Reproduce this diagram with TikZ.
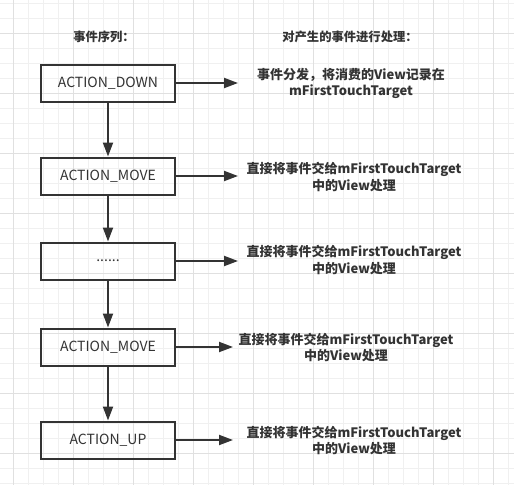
\documentclass[tikz,border=0pt]{standalone}
\usepackage{fontspec}
\setmainfont{Noto Sans CJK SC}
\usetikzlibrary{arrows.meta, positioning}
\definecolor{inkgray}{HTML}{333333}
\definecolor{gridminor}{HTML}{F0F0F0}
\definecolor{gridmajor}{HTML}{E0E0E0}
\tikzset{
    evbox/.style={draw=inkgray, line width=2pt, minimum width=134pt, minimum height=37pt, inner sep=0pt, text=inkgray, font=\fontsize{14}{16}\selectfont},
    handletext/.style={align=center, text=inkgray, font=\bfseries\fontsize{13}{16.5}\selectfont, inner sep=0pt},
    headtext/.style={text=inkgray, font=\bfseries\fontsize{12.3}{14}\selectfont, inner sep=0pt},
    flow/.style={-{Triangle[length=14pt, width=10pt]}, draw=inkgray, line width=2pt},
}

\begin{document}
\begin{tikzpicture}[x=1pt, y=-1pt]
\fill[white] (0,0) rectangle (514,485);
\useasboundingbox (0,0) rectangle (514,485);
% grid paper
\foreach \gx in {13,28,...,508} \draw[gridminor, line width=1pt] (\gx,0) -- (\gx,485);
\foreach \gy in {3,18,...,483} \draw[gridminor, line width=1pt] (0,\gy) -- (514,\gy);
\foreach \gx in {13,73,...,493} \draw[gridmajor, line width=1pt] (\gx,0) -- (\gx,485);
\foreach \gy in {33,93,...,453} \draw[gridmajor, line width=1pt] (0,\gy) -- (514,\gy);

\node[headtext] (seqhead) at (104,37) {事件序列：};
\node[headtext] (handlehead) at (350,37) {对产生的事件进行处理：};

\node[evbox] (evdown) at (108,83) {ACTION\_DOWN};
\node[evbox] (evmove) at (108,176) {ACTION\_MOVE};
\node[evbox] (evdots) at (108,261) {......};
\node[evbox] (evmovetwo) at (108,347) {ACTION\_MOVE};
\node[evbox] (evup) at (108,440) {ACTION\_UP};

\draw[flow] (evdown.south) -- (evmove.north);
\draw[flow] (evmove.south) -- (evdots.north);
\draw[flow] (evdots.south) -- (evmovetwo.north);
\draw[flow] (evmovetwo.south) -- (evup.north);

\coordinate (downend) at (238,83);
\coordinate (moveend) at (238,176);
\coordinate (dotsend) at (238,261);
\coordinate (movetwoend) at (233,347);
\coordinate (upend) at (233,440);
\draw[flow] (evdown.east) -- (downend);
\draw[flow] (evmove.east) -- (moveend);
\draw[flow] (evdots.east) -- (dotsend);
\draw[flow] (evmovetwo.east) -- (movetwoend);
\draw[flow] (evup.east) -- (upend);

\node[handletext] (hdown) at (351,83.5) {事件分发，将消费的View记录在\\mFirstTouchTarget};
\node[handletext] (hmove) at (354,177) {直接将事件交给mFirstTouchTarget\\中的View处理};
\node[handletext] (hdots) at (354,260) {直接将事件交给mFirstTouchTarget\\中的View处理};
\node[handletext] (hmovetwo) at (346,347.5) {直接将事件交给mFirstTouchTarget\\中的View处理};
\node[handletext] (hup) at (354,440.5) {直接将事件交给mFirstTouchTarget\\中的View处理};
\end{tikzpicture}
\end{document}
